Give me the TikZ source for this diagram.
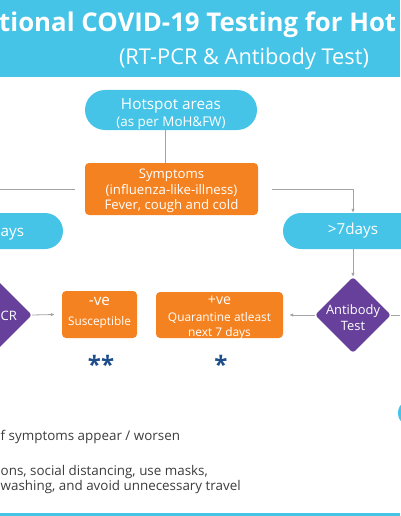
\documentclass[tikz,border=0pt]{standalone}
\usepackage{fontspec}
\setmainfont{Open Sans}
\usetikzlibrary{shapes.geometric,arrows.meta}
\definecolor{cblue}{HTML}{45C4E7}
\definecolor{corange}{HTML}{F58220}
\definecolor{cpurple}{HTML}{66409A}
\definecolor{cgray}{HTML}{A3A3A3}
\definecolor{cstar}{HTML}{1D4E8A}
\definecolor{ctext}{HTML}{3C3C3C}
\begin{document}
\begin{tikzpicture}[x=1pt,y=-1pt,
  pill/.style={fill=cblue, rounded corners=18pt, inner sep=0pt, text=white, align=center},
  obox/.style={fill=corange, rounded corners=4pt, inner sep=0pt, text=white, align=center},
  dia/.style={diamond, fill=cpurple, rounded corners=3pt, minimum width=76pt, minimum height=76pt, inner sep=0pt, text=white, align=center},
  wtext/.style={inner sep=0pt, text=white, align=center},
  conn/.style={draw=cgray, line width=0.8pt},
  arr/.style={conn, -{Latex[length=4pt,width=3.5pt]}},
  star/.style={text=cstar, font=\bfseries\fontsize{24}{24}\selectfont, inner sep=0pt},
  note/.style={text=ctext, font=\fontsize{13.4}{14}\selectfont, inner sep=0pt, anchor=base west}
]
\useasboundingbox (0,0) rectangle (400,516);
% banner
\fill[cblue] (0,0) rectangle (400,77);
\node[anchor=base west, inner sep=0pt, text=white, font=\bfseries\fontsize{25.8}{26}\selectfont] (title) at (-1,32) {tional COVID-19 Testing for Hot};
\node[anchor=base, inner sep=0pt, text=white, font=\fontsize{21.8}{24}\selectfont] (sub) at (244,65) {(RT-PCR \& Antibody Test)};
% hotspot
\node[pill, minimum width=172pt, minimum height=40pt, rounded corners=20pt] (hot) at (171,110) {};
\node[wtext, font=\fontsize{13.4}{17}\selectfont] (hott) at (171,114)
  {{\fontsize{15.3}{16}\selectfont Hotspot areas}\\[0.5pt]{\fontsize{13.4}{15}\selectfont (as per MoH\&FW)}};
% symptoms
\node[obox, minimum width=173pt, minimum height=52pt] (sym) at (171.5,189) {};
\node[wtext, font=\fontsize{13.2}{15.5}\selectfont] (symt) at (171.5,191)
  {Symptoms\\(influenza-like-illness)\\Fever, cough and cold};
% pills
\fill[cblue, rounded corners=18pt] (-80,213) rectangle (63,249);
\node[anchor=base west, inner sep=0pt, text=white, font=\fontsize{15.2}{16}\selectfont] (lt) at (0.5,236.5) {ays};
\node[pill, minimum width=140pt, minimum height=36pt, font=\fontsize{15.2}{16}\selectfont] (gt) at (353,231) {>7days};
% diamonds
\node[dia] (rt) at (-6,315) {};
\node[anchor=base west, inner sep=0pt, text=white, font=\fontsize{13}{15}\selectfont] (rtt) at (0.5,320) {CR};
\node[dia] (ab) at (353,315) {};
\node[wtext, font=\fontsize{12.9}{16}\selectfont] (abt) at (353,318) {Antibody\\Test};
% result boxes
\node[obox, minimum width=75pt, minimum height=47pt] (neg) at (99.5,314.5) {};
\node[wtext, font=\fontsize{11.8}{14}\selectfont] (negt) at (99.5,312.5)
  {{\fontsize{15.2}{15}\selectfont -ve}\\[6pt]{\fontsize{11.8}{14}\selectfont Susceptible}};
\node[obox, minimum width=127pt, minimum height=46pt] (pos) at (219.5,315) {};
\node[wtext, font=\fontsize{11.9}{15.5}\selectfont] (post) at (219.5,318)
  {{\fontsize{14.1}{15}\selectfont +ve}\\[1pt]Quarantine atleast\\next 7 days};
% stars
\node[star] (s2) at (101,364) {**};
\node[star] (s1) at (221,364) {*};
% right edge shape
\fill[cblue] (412,413) circle (14);
% connectors
\coordinate (lend) at (0,189);
\coordinate (rend) at (400,315);
\draw[conn] ([xshift=-6pt]hot.south) -- ([xshift=-6.5pt]sym.north);
\draw[conn] ([xshift=-10pt]sym.west) -- (lend);
\draw[arr] ([xshift=14pt]sym.east) -| (gt.north);
\draw[arr] (gt.south) -- (ab.north);
\draw[arr] (rt.east) -- ([xshift=-7pt]neg.west);
\draw[arr] (ab.west) -- ([xshift=6pt]pos.east);
\draw[conn] (ab.east) -- (rend);
% notes
\node[note] (n1) at (0.5,440) {f symptoms appear / worsen};
\node[note] (n2) at (0.5,475) {ons, social distancing, use masks,};
\node[note] (n3) at (0.5,490) {washing, and avoid unnecessary travel};
% bottom rule
\fill[cblue] (0,512.5) rectangle (400,516);
\end{tikzpicture}
\end{document}
